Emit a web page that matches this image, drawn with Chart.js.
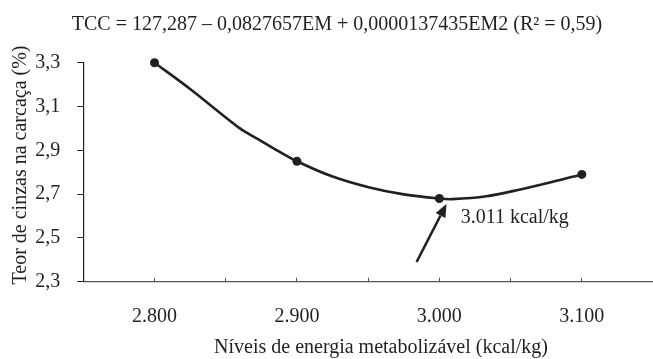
<!DOCTYPE html>
<html>
<head>
<meta charset="utf-8">
<script src="https://cdn.jsdelivr.net/npm/chart.js@4.4.1/dist/chart.umd.min.js"></script>
<style>
  html, body { margin: 0; padding: 0; background: #fff; }
  #wrap { width: 653px; height: 359px; position: relative; }
</style>
</head>
<body>
<div id="wrap"><canvas id="c"></canvas></div>
<script>
// ---- Data ----
const observedEnergy = [2800, 2900, 3000, 3100];
const observedAsh = [3.30, 2.85, 2.68, 2.79];

// vertices of the drawn regression curve
const curveEnergy = [2800, 2825, 2860, 2873, 2886, 2900, 2925, 2951, 2974, 3000, 3009, 3033, 3056, 3079, 3100];
const curveAsh    = [3.30, 3.18, 3.00, 2.95, 2.90, 2.85, 2.78, 2.73, 2.70, 2.68, 2.677, 2.69, 2.72, 2.755, 2.79];

const titleText = 'TCC = 127,287 \u2013 0,0827657EM + 0,0000137435EM2 (R\u00B2 = 0,59)';
const xTitle = 'N\u00EDveis de energia metaboliz\u00E1vel (kcal/kg)';
const yTitle = 'Teor de cinzas na carca\u00E7a (%)';
const annotationText = '3.011 kcal/kg';
const arrowFrom = [2984, 2.39];
const arrowTo = [3005, 2.655];
const annotationAt = [3015, 2.59];

const ink = '#231f20';
const FONT = 'Liberation Serif';
const FS = 20;

const textPlugin = {
  id: 'textPlugin',
  afterDraw(chart) {
    const {ctx} = chart;
    ctx.save();
    ctx.fillStyle = ink;
    ctx.font = FS + 'px "' + FONT + '"';
    ctx.textAlign = 'center'; ctx.textBaseline = 'alphabetic';
    ctx.fillText(titleText, 337, 29.5);
    ctx.textBaseline = 'middle';
    ctx.fillText(xTitle, 381, 347.5);
    ctx.save();
    ctx.translate(21, 165);
    ctx.rotate(-Math.PI / 2);
    ctx.fillText(yTitle, 0, 0);
    ctx.restore();
    ctx.restore();
  },
  afterDatasetsDraw(chart) {
    const {ctx, scales: {x, y}} = chart;
    const x1 = x.getPixelForValue(arrowFrom[0]), y1 = y.getPixelForValue(arrowFrom[1]);
    const x2 = x.getPixelForValue(arrowTo[0]), y2 = y.getPixelForValue(arrowTo[1]);
    const ang = Math.atan2(y2 - y1, x2 - x1);
    const hl = 13, hw = 5.5;
    const bx = x2 - hl * Math.cos(ang), by = y2 - hl * Math.sin(ang);
    ctx.save();
    ctx.strokeStyle = ink; ctx.fillStyle = ink; ctx.lineWidth = 2.6;
    ctx.beginPath(); ctx.moveTo(x1, y1); ctx.lineTo(bx, by); ctx.stroke();
    ctx.beginPath();
    ctx.moveTo(x2, y2);
    ctx.lineTo(bx + hw * Math.sin(ang), by - hw * Math.cos(ang));
    ctx.lineTo(bx - hw * Math.sin(ang), by + hw * Math.cos(ang));
    ctx.closePath(); ctx.fill();
    ctx.font = FS + 'px "' + FONT + '"';
    ctx.textAlign = 'left'; ctx.textBaseline = 'middle';
    ctx.fillText(annotationText, x.getPixelForValue(annotationAt[0]), y.getPixelForValue(annotationAt[1]));
    ctx.restore();
  }
};

new Chart(document.getElementById('c'), {
  type: 'scatter',
  data: {
    datasets: [
      {
        label: 'curve',
        data: curveEnergy.map((e, i) => ({x: e, y: curveAsh[i]})),
        showLine: true,
        borderColor: ink,
        borderWidth: 2.6,
        pointRadius: 0,
        tension: 0.3,
        clip: false,
        order: 2
      },
      {
        label: 'observed',
        data: observedEnergy.map((e, i) => ({x: e, y: observedAsh[i]})),
        showLine: false,
        backgroundColor: ink,
        borderColor: ink,
        pointRadius: 4.5,
        pointBorderWidth: 0,
        clip: false,
        order: 1
      }
    ]
  },
  options: {
    responsive: true,
    maintainAspectRatio: false,
    animation: false,
    layout: { autoPadding: false, padding: { left: 0, right: 0, top: 62.7, bottom: 0 } },
    plugins: {
      legend: { display: false },
      tooltip: { enabled: false },
      title: { display: false }
    },
    scales: {
      x: {
        type: 'linear',
        min: 2750, max: 3150,
        afterFit: s => { s.height = 77.3; s.paddingLeft = 0; s.paddingRight = 0; },
        border: { display: true, color: '#555', width: 1.2 },
        grid: { drawOnChartArea: false, drawTicks: true, tickLength: -4, color: '#555', tickWidth: 1 },
        ticks: {
          stepSize: 50,
          autoSkip: false,
          maxRotation: 0,
          padding: 27,
          color: ink,
          font: { family: FONT, size: FS },
          callback: v => (v % 100 === 0 && v >= 2800 && v <= 3100) ? (v / 1000).toFixed(3) : ''
        },
        title: { display: false }
      },
      y: {
        min: 2.3, max: 3.3,
        afterFit: s => { s.width = 83.3; s.paddingTop = 0; s.paddingBottom = 0; },
        border: { display: true, color: '#222', width: 1.2 },
        grid: { drawOnChartArea: false, drawTicks: true, tickLength: 6, color: '#222' },
        ticks: {
          stepSize: 0.2,
          padding: 17,
          color: ink,
          font: { family: FONT, size: FS },
          callback: v => Number(v).toFixed(1).replace('.', ',')
        },
        title: { display: false }
      }
    }
  },
  plugins: [textPlugin]
});
</script>
</body>
</html>
